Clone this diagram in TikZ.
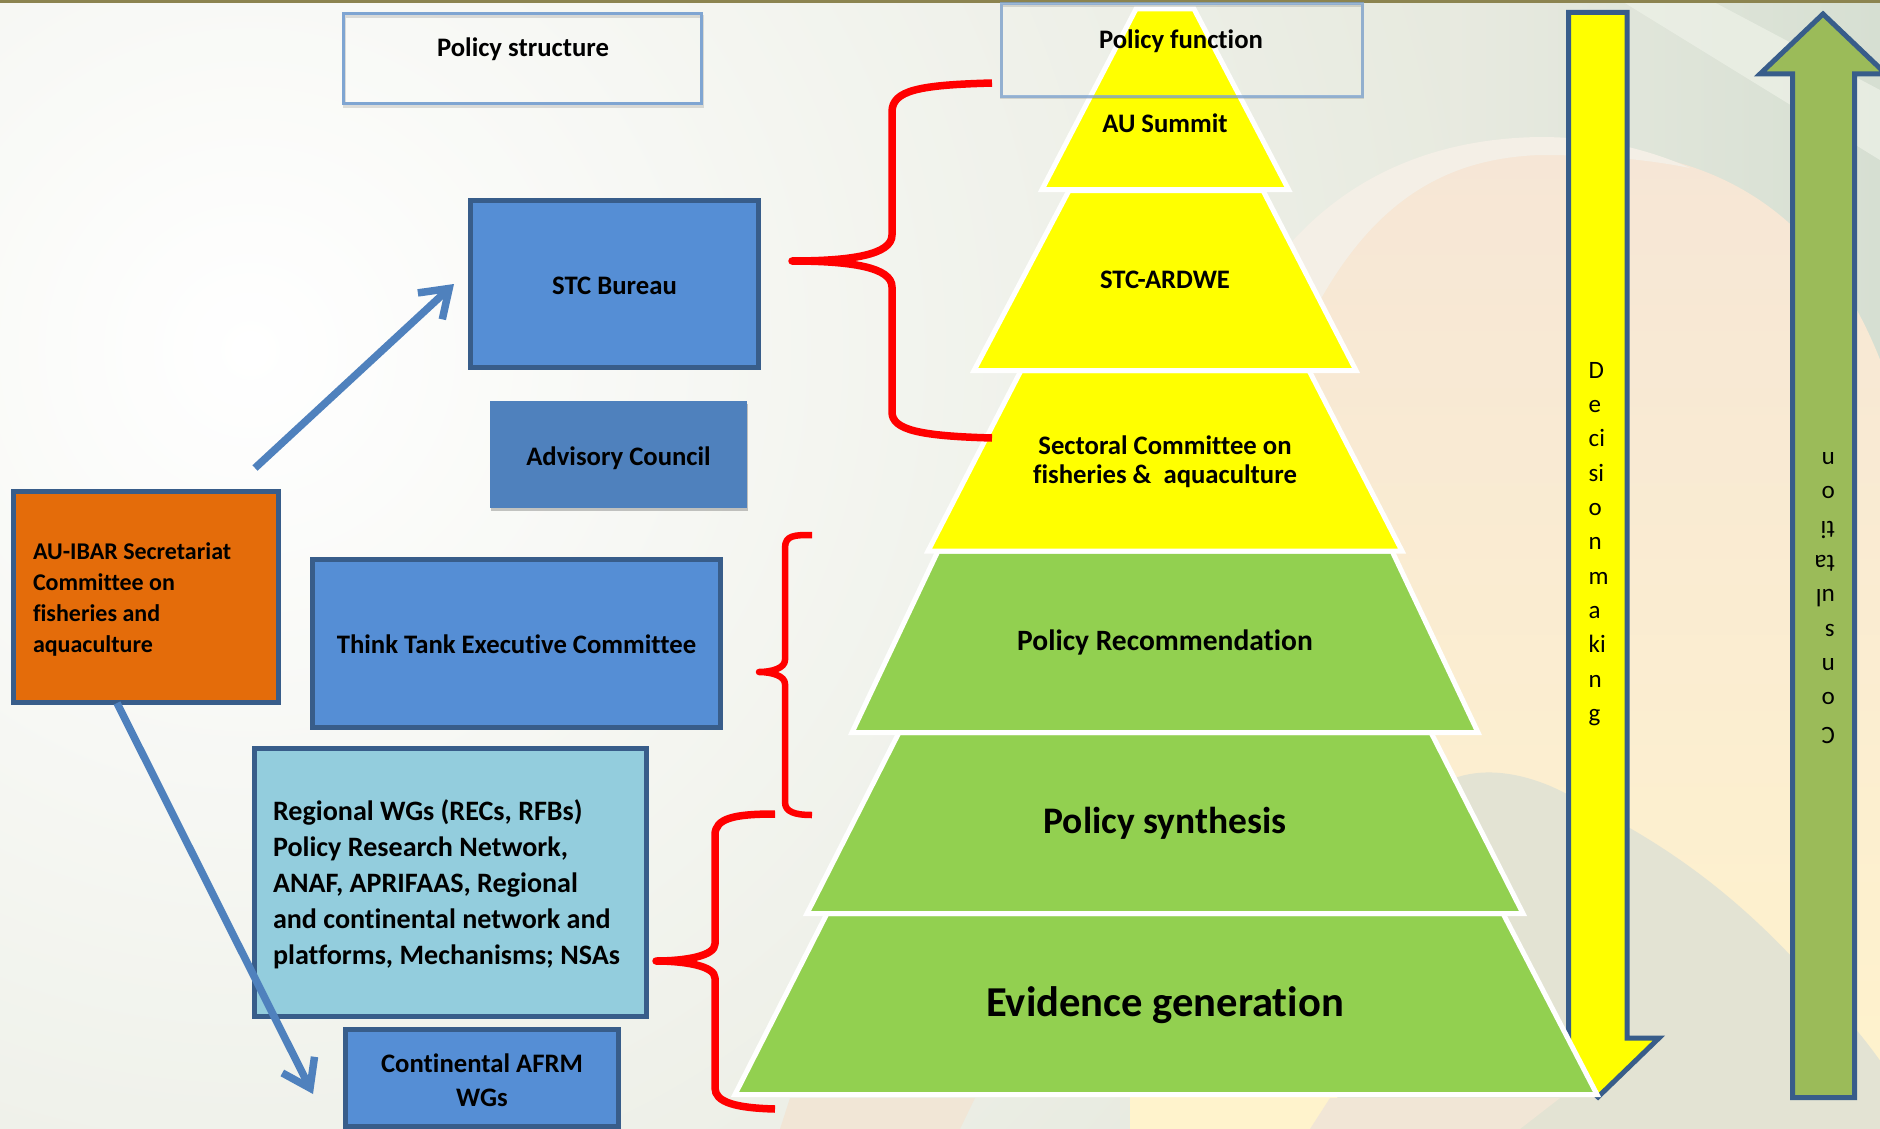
\documentclass[tikz,border=0pt]{standalone}
\usepackage{fontspec}
\setmainfont[Ligatures=NoCommon]{Carlito}
\usetikzlibrary{arrows.meta,shadows,calc}
\definecolor{boxblue}{HTML}{558ED5}
\definecolor{boxedge}{HTML}{385D8A}
\definecolor{advblue}{HTML}{4F81BD}
\definecolor{lightblue}{HTML}{93CDDD}
\definecolor{orangebox}{HTML}{E46C0A}
\definecolor{pyrgreen}{HTML}{92D050}
\definecolor{pyryellow}{HTML}{FFFF00}
\definecolor{arrgreen}{HTML}{9BBB59}
\definecolor{policyedge}{HTML}{7FA5D2}
\definecolor{bgouter}{HTML}{DEE2D3}
\definecolor{bgseam}{HTML}{E8EAE0}
\definecolor{bgsage}{HTML}{D6DFD2}
\definecolor{bgstreak}{HTML}{EEF2E8}
\definecolor{domeTop}{HTML}{F6E6D6}
\definecolor{domeBot}{HTML}{FFF3CC}
\definecolor{domeRim}{HTML}{F4EFE6}
\definecolor{greydome}{HTML}{E3E3D3}
\definecolor{peach}{HTML}{F1E6D6}
\definecolor{topband}{HTML}{8C8450}
\newcommand{\lowerby}[2]{\raisebox{-#1}[\height][\depth]{#2}}
\tikzset{
  x=1pt,y=-1pt,
  solidbox/.style={draw=boxedge,line width=5pt,fill=boxblue,inner sep=0pt,align=center,font=\bfseries\fontsize{26.7}{31}\selectfont},
  softshadow/.style={drop shadow={shadow xshift=1pt,shadow yshift=-3pt,opacity=.22,fill=black}},
  policybox/.style={draw=policyedge,line width=3pt},
  ghostedge/.style={draw=black,opacity=.12,line width=3pt},
  policytext/.style={font=\bfseries\fontsize{26.7}{30}\selectfont},
  pyrtext/.style={font=\bfseries\fontsize{26.7}{29}\selectfont,align=center,inner sep=0pt},
  yseg/.style={fill=pyryellow,draw=white,line width=5pt,line join=miter},
  gseg/.style={fill=pyrgreen,draw=white,line width=5pt,line join=miter},
  bluearrow/.style={draw=advblue,line width=7.5pt,-{Straight Barb[length=26pt,width=36pt]}},
  redbrace/.style={draw=red,line width=7.5pt,line join=round},
  bigarrow/.style={draw=boxedge,line width=5pt,line join=miter},
  stack/.style={font=\fontsize{25}{34.3}\selectfont,align=left,inner sep=0pt},
}
\begin{document}
\begin{tikzpicture}
\useasboundingbox (0,0) rectangle (1880,1129);
\begin{scope}
\clip (0,0) rectangle (1880,1129);
% background
\fill[bgouter] (0,0) rectangle (1880,1129);
\shade[inner color=white,outer color=bgouter] (-1450,-1350) rectangle (1950,2050);
\shade[left color=bgseam,right color=bgsage] (1450,0) rectangle (1880,420);
\fill[bgstreak,opacity=.7] (1620,0) -- (1710,0) -- (1880,90) -- (1880,160) -- cycle;
% warm dome
\shade[top color=domeTop,bottom color=domeBot]
  (1130,800) .. controls (1180,420) and (1320,150) .. (1540,150)
  .. controls (1700,140) and (1840,200) .. (1900,420)
  -- (1900,1129) -- (1130,1129) -- cycle;
\fill[domeRim] (1180,560) .. controls (1190,330) and (1300,140) .. (1540,137)
  .. controls (1600,137) and (1650,150) .. (1690,168)
  .. controls (1640,158) and (1590,155) .. (1540,155)
  .. controls (1400,160) and (1300,250) .. (1230,560) -- cycle;
% grey dome
\fill[greydome] (1330,1129) -- (1400,830) .. controls (1440,750) and (1520,770) .. (1563,792)
  .. controls (1620,822) and (1700,860) .. (1791,956)
  .. controls (1830,1000) and (1860,1030) .. (1890,1075) -- (1890,1129) -- cycle;
\fill[peach] (780,1129) -- (790,1098) -- (975,1098) -- (960,1129) -- cycle;
\fill[peach] (1330,1098) -- (1560,1098) -- (1520,1129) -- (1310,1129) -- cycle;
% top band
\fill[topband] (0,0) rectangle (1880,3);
\end{scope}
% tall arrows
\begin{scope}
\clip (0,0) rectangle (1880,1129);
\draw[bigarrow,fill=pyryellow] (1568.5,12.5) -- (1627,12.5) -- (1627,1038) -- (1659,1038) -- (1598,1097) -- (1536,1038) -- (1568.5,1038) -- cycle;
\draw[bigarrow,fill=arrgreen] (1792.5,1097.5) -- (1854.5,1097.5) -- (1854.5,74) -- (1886,74) -- (1823,14) -- (1760,74) -- (1792.5,74) -- cycle;
\end{scope}
\node[stack,anchor=west] (decision) at (1588.5,544) {D\\e\\ci\\si\\o\\n\\m\\a\\ki\\n\\g};
\node[stack,anchor=west,rotate=180] (consult) at (1835,598) {C\\o\\n\\s\\ul\\ta\\ti\\o\\n};
% policy structure box
\draw[ghostedge] (344.5,16.5) rectangle (702.5,106.5);
\node[policybox,minimum width=358pt,minimum height=90pt,inner sep=0pt] (pstruct) at (522.5,58.5) {};
\node[policytext,inner sep=0pt] (pstructlabel) at (523,49) {Policy structure};
% boxes
\node[solidbox,text height=21pt,text depth=0pt,minimum width=288pt,minimum height=167pt] (stc) at (614.5,283.5) {STC Bureau};
\node[solidbox,draw=none,fill=advblue,softshadow,text height=21pt,text depth=0pt,minimum width=257pt,minimum height=107pt] (adv) at (618.5,454.5) {Advisory Council};
\node[solidbox,fill=orangebox,align=none,minimum width=265pt,minimum height=211pt,font=\bfseries\fontsize{24}{31}\selectfont] (secretariat) at (146,597) {\lowerby{2pt}{\parbox{226pt}{\raggedright AU-IBAR Secretariat\\Committee on\\fisheries and\\aquaculture}}};
\node[solidbox,text height=20pt,text depth=0pt,minimum width=408pt,minimum height=168pt] (tank) at (516.5,643.5) {Think Tank Executive Committee};
\node[solidbox,fill=lightblue,align=none,minimum width=392pt,minimum height=268pt,font=\bfseries\fontsize{28.1}{36}\selectfont] (regional) at (450.5,882.5) {\lowerby{2pt}{\parbox{355pt}{\raggedright Regional WGs (RECs, RFBs)\\Policy Research Network,\\ANAF, APRIFAAS, Regional\\and continental network and\\platforms, Mechanisms; NSAs}}};
\node[solidbox,align=none,minimum width=273pt,minimum height=97pt,font=\bfseries\fontsize{26.7}{34}\selectfont] (afrm) at (482,1078) {\lowerby{2pt}{\parbox{268pt}{\centering Continental AFRM\\WGs}}};
% pyramid
\draw[gseg] (827,913.5) -- (1503,913.5) -- (1597,1094.5) -- (735,1094.5) -- cycle;
\draw[gseg] (899,732.5) -- (1431,732.5) -- (1523,913.5) -- (807,913.5) -- cycle;
\draw[gseg] (938,551) -- (1392,551) -- (1478,732.5) -- (852,732.5) -- cycle;
\draw[yseg] (1021,370.5) -- (1309,370.5) -- (1402,551) -- (928,551) -- cycle;
\draw[yseg] (1069,190.5) -- (1263,190.5) -- (1356,370.5) -- (974,370.5) -- cycle;
\draw[yseg] (1136,9) -- (1194,9) -- (1288.5,189.5) -- (1042,189.5) -- cycle;
\node[pyrtext] (ausummit) at (1165,123) {AU Summit};
\node[pyrtext] (ardwe) at (1165,280) {STC-ARDWE};
\node[pyrtext] (sectoral) at (1165,461.5) {Sectoral Committee on\\fisheries \&\ \ aquaculture};
\node[pyrtext,font=\bfseries\fontsize{29.5}{31}\selectfont] (recommend) at (1165,642.5) {Policy Recommendation};
\node[pyrtext,font=\bfseries\fontsize{37.5}{38}\selectfont] (synthesis) at (1165,823) {Policy synthesis};
\node[pyrtext,font=\bfseries\fontsize{42.6}{44}\selectfont] (evidence) at (1165,1005.5) {Evidence generation};
% policy function box
\draw[ghostedge] (1001.5,5.5) rectangle (1362.5,98);
\node[policybox,opacity=.75,minimum width=361pt,minimum height=92.5pt,inner sep=0pt] (pfunc) at (1181.5,50) {};
\node[policytext,inner sep=0pt] (pfunclabel) at (1181,41) {Policy function};
% blue arrows
\coordinate (upstart) at (255,468);
\coordinate (upend) at (454,284);
\coordinate (downstart) at ($(secretariat.south west)+(106,-2)$);
\coordinate (downend) at (313,1094);
\draw[bluearrow] (upstart) -- (upend);
\draw[bluearrow] (downstart) -- (downend);
% braces
\coordinate (b1top) at (992,83);
\coordinate (b1tip) at (792,261);
\coordinate (b1bot) at (992,438);
\draw[redbrace] (b1top) .. controls (920,85) and (892,90) .. (892,112) -- (892,235)
  .. controls (892,255) and (850,261) .. (b1tip)
  .. controls (850,261) and (892,267) .. (892,287) -- (892,412)
  .. controls (892,430) and (920,436) .. (b1bot);
\coordinate (b2top) at (812,535);
\coordinate (b2tip) at (759,672);
\coordinate (b2bot) at (812,815);
\draw[redbrace,line width=6.5pt] (b2top) .. controls (795,535) and (785,535) .. (785,548) -- (785,660)
  .. controls (785,668) and (772,672) .. (b2tip)
  .. controls (772,672) and (785,676) .. (785,684) -- (785,802)
  .. controls (785,812) and (795,815) .. (b2bot);
\coordinate (b3top) at (775,814);
\coordinate (b3tip) at (656,961);
\coordinate (b3bot) at (775,1109);
\draw[redbrace] (b3top) .. controls (735,814) and (715,818) .. (715,835) -- (715,944)
  .. controls (715,956) and (685,961) .. (b3tip)
  .. controls (685,961) and (715,966) .. (715,978) -- (715,1088)
  .. controls (715,1102) and (735,1108) .. (b3bot);
\end{tikzpicture}
\end{document}
